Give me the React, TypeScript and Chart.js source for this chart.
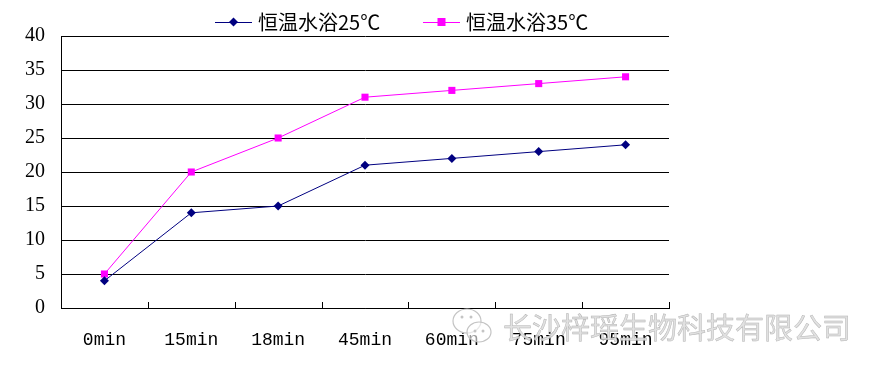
import React, { useEffect, useRef } from "react";
import { Chart, registerables } from "chart.js";

Chart.register(...registerables);

const categories = ["0min", "15min", "18min", "45min", "60min", "75min", "95min"];
const series25 = [4, 14, 15, 21, 22, 23, 24];
const series35 = [5, 20, 25, 31, 32, 33, 34];
const seriesNames = ["恒温水浴25℃", "恒温水浴35℃"];
const watermarkText = "长沙梓瑶生物科技有限公司";

const NAVY = "#000080";
const MAGENTA = "#FF00FF";

export default function App() {
  const ref = useRef<HTMLCanvasElement | null>(null);

  useEffect(() => {
    const canvas = ref.current;
    if (!canvas) return;

    const overlay = {
      id: "overlay",
      afterDraw(chart: any) {
        const ctx = chart.ctx as CanvasRenderingContext2D;
        const area = chart.chartArea;
        // category boundary ticks (inward)
        ctx.save();
        ctx.strokeStyle = "#000";
        ctx.lineWidth = 1;
        const n = categories.length;
        const w = (area.right - area.left) / n;
        for (let i = 1; i <= n; i++) {
          const x = Math.round(area.left + i * w) + 0.5;
          ctx.beginPath();
          ctx.moveTo(x, area.bottom);
          ctx.lineTo(x, area.bottom - 6);
          ctx.stroke();
        }
        ctx.restore();

        // legend
        ctx.save();
        const ly = 22;
        const items = [
          { x0: 215, x1: 252, color: NAVY, shape: "diamond", text: seriesNames[0], tx: 258 },
          { x0: 423, x1: 460, color: MAGENTA, shape: "square", text: seriesNames[1], tx: 466 },
        ];
        for (const it of items) {
          ctx.strokeStyle = it.color;
          ctx.lineWidth = 1;
          ctx.beginPath();
          ctx.moveTo(it.x0, ly + 0.5);
          ctx.lineTo(it.x1, ly + 0.5);
          ctx.stroke();
          const cx = (it.x0 + it.x1) / 2;
          ctx.fillStyle = it.color;
          if (it.shape === "diamond") {
            ctx.beginPath();
            ctx.moveTo(cx, ly - 4.5);
            ctx.lineTo(cx + 4.5, ly);
            ctx.lineTo(cx, ly + 4.5);
            ctx.lineTo(cx - 4.5, ly);
            ctx.closePath();
            ctx.fill();
          } else {
            ctx.fillRect(cx - 4, ly - 4, 8, 8);
          }
          ctx.fillStyle = "#000";
          ctx.font = "20px 'Noto Sans CJK SC'";
          ctx.textBaseline = "middle";
          ctx.textAlign = "left";
          ctx.fillText(it.text, it.tx, ly);
        }
        ctx.restore();

        // watermark
        ctx.save();
        ctx.strokeStyle = "#c4c4c4";
        ctx.fillStyle = "rgba(255,255,255,0.6)";
        ctx.lineWidth = 1.2;
        ctx.beginPath();
        ctx.ellipse(467, 321, 14, 12, 0, 0, Math.PI * 2);
        ctx.fill();
        ctx.stroke();
        ctx.beginPath();
        ctx.ellipse(479, 332, 12, 10, 0, 0, Math.PI * 2);
        ctx.fill();
        ctx.stroke();
        ctx.fillStyle = "#c4c4c4";
        for (const [px, py] of [[462, 317], [471, 317], [475, 331], [483, 331]]) {
          ctx.beginPath();
          ctx.arc(px, py, 1.5, 0, Math.PI * 2);
          ctx.fill();
        }
        ctx.font = "29px 'Noto Sans CJK SC'";
        ctx.textBaseline = "middle";
        ctx.textAlign = "left";
        ctx.fillStyle = "rgba(222,222,222,0.9)";
        ctx.strokeStyle = "#b4b4b4";
        ctx.lineWidth = 0.5;
        ctx.fillText(watermarkText, 503, 328);
        ctx.strokeText(watermarkText, 503, 328);
        ctx.restore();
      },
    };

    const chart = new Chart(canvas, {
      type: "line",
      data: {
        labels: categories,
        datasets: [
          {
            label: seriesNames[0],
            data: series25,
            borderColor: NAVY,
            backgroundColor: NAVY,
            borderWidth: 1,
            pointStyle: "rectRot",
            pointRadius: 4.5,
            pointBorderWidth: 0,
            tension: 0,
          },
          {
            label: seriesNames[1],
            data: series35,
            borderColor: MAGENTA,
            backgroundColor: MAGENTA,
            borderWidth: 1,
            pointStyle: "rect",
            pointRadius: 5,
            pointBorderWidth: 0,
            tension: 0,
          },
        ],
      },
      options: {
        responsive: false,
        animation: false,
        layout: { padding: { left: 0, top: 36, right: 209, bottom: 0 } },
        plugins: {
          legend: { display: false },
          tooltip: { enabled: false },
        },
        scales: {
          x: {
            offset: true,
            grid: { display: false, drawTicks: false },
            border: { display: true, color: "#000", width: 1 },
            ticks: {
              color: "#000",
              font: { family: "'Liberation Mono'", size: 18 },
              padding: 21,
              maxRotation: 0,
              autoSkip: false,
            },
            afterFit(scale: any) {
              scale.height = 65;
            },
          },
          y: {
            min: 0,
            max: 40,
            ticks: {
              stepSize: 5,
              color: "#000",
              font: { family: "'Liberation Serif'", size: 20 },
              padding: 16,
            },
            grid: { color: "#000", lineWidth: 1, drawTicks: false },
            border: { display: true, color: "#000", width: 1 },
            afterFit(scale: any) {
              scale.width = 61;
            },
          },
        },
      },
      plugins: [overlay],
    });

    return () => chart.destroy();
  }, []);

  return (
    <div style={{ position: "fixed", left: 0, top: 0, width: 878, height: 373, background: "#fff" }}>
      <canvas ref={ref} width={878} height={373} style={{ display: "block" }} />
    </div>
  );
}
